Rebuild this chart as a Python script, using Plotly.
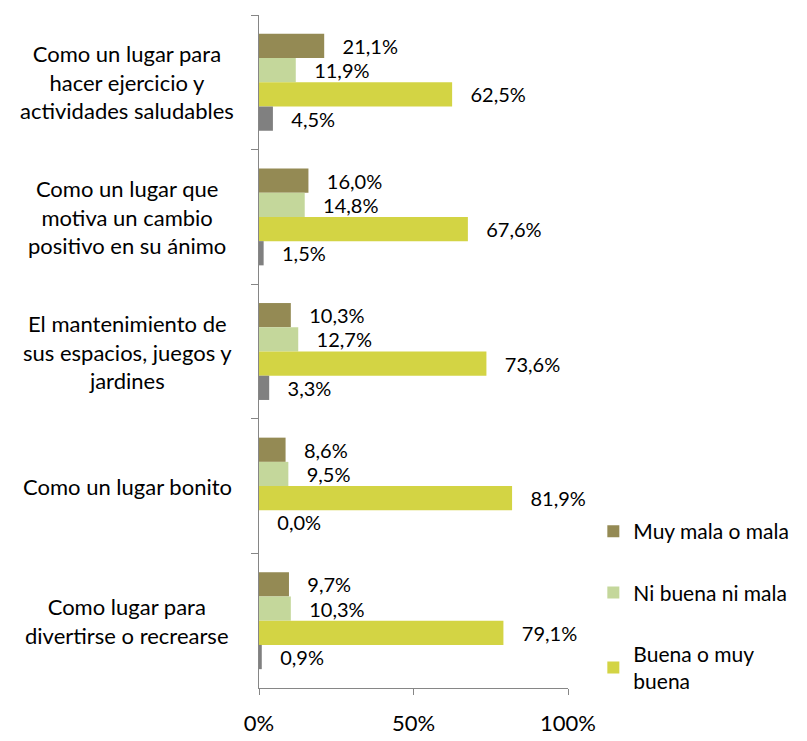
import plotly.graph_objects as go

# Survey items (top to bottom)
categories = [
    "Como un lugar para<br>hacer ejercicio y<br>actividades saludables",
    "Como un lugar que<br>motiva un cambio<br>positivo en su ánimo",
    "El mantenimiento de<br>sus espacios, juegos y<br>jardines",
    "Como un lugar bonito",
    "Como lugar para<br>divertirse o recrearse",
]
cat_ids = ["c1", "c2", "c3", "c4", "c5"]

series_names = ["Muy mala o mala", "Ni buena ni mala", "Buena o muy<br>buena", "No responde"]
muy_mala = [21.1, 16.0, 10.3, 8.6, 9.7]
ni_buena = [11.9, 14.8, 12.7, 9.5, 10.3]
buena = [62.5, 67.6, 73.6, 81.9, 79.1]
no_resp = [4.5, 1.5, 3.3, 0.0, 0.9]
series_values = [muy_mala, ni_buena, buena, no_resp]
series_colors = ["#948A54", "#C4D79B", "#D3D444", "#808080"]
show_in_legend = [True, True, True, False]

x_ticks = [0, 50, 100]
x_ticklabels = ["0%", "50%", "100%"]

FONT = "Lato, Carlito, Calibri, sans-serif"
NBSP = "\u00a0"


def pct(v):
    return NBSP * 3 + f"{v:.1f}".replace(".", ",") + "%"


fig = go.Figure()
for i, (name, vals, col, show) in enumerate(zip(series_names, series_values, series_colors, show_in_legend)):
    fig.add_trace(go.Bar(
        y=cat_ids, x=vals, orientation="h", name=name,
        marker=dict(color=col, line=dict(width=0)),
        text=[pct(v) for v in vals], textposition="outside",
        textfont=dict(family=FONT, size=20, color="#000000"),
        constraintext="none", cliponaxis=False,
        showlegend=show, legendgroup=f"g{i}",
    ))

# Category labels, centred per line, placed at each category position
for cid, label in zip(cat_ids, categories):
    fig.add_annotation(
        x=-0.427, xref="paper", y=cid, yref="y", text=label,
        showarrow=False, xanchor="center", yanchor="middle", align="center",
        font=dict(family=FONT, size=22, color="#000000"),
    )

fig.update_layout(
    width=807, height=741,
    margin=dict(l=259, r=239, t=15, b=53),
    paper_bgcolor="white", plot_bgcolor="white",
    barmode="group", bargap=0.28, bargroupgap=0,
    font=dict(family=FONT, size=20, color="#000000"),
    legend=dict(
        x=1.082, y=0.263, xanchor="left", yanchor="top",
        font=dict(family=FONT, size=21, color="#000000"),
        tracegroupgap=31, traceorder="grouped", bgcolor="rgba(0,0,0,0)",
    ),
    xaxis=dict(
        range=[0, 100], tickvals=x_ticks, ticktext=x_ticklabels,
        showgrid=False, zeroline=False, showline=True, linecolor="#868686", linewidth=1,
        ticks="outside", ticklen=6, tickcolor="#868686", automargin=False,
        tickfont=dict(family=FONT, size=22, color="#000000"), ticklabelstandoff=10,
    ),
    yaxis=dict(
        categoryorder="array", categoryarray=cat_ids, autorange="reversed",
        showticklabels=False, showgrid=False, zeroline=False,
        showline=True, linecolor="#868686", linewidth=1,
        ticks="outside", ticklen=7, tickcolor="#868686", tickson="boundaries",
    ),
)

fig.write_html("out.html")
